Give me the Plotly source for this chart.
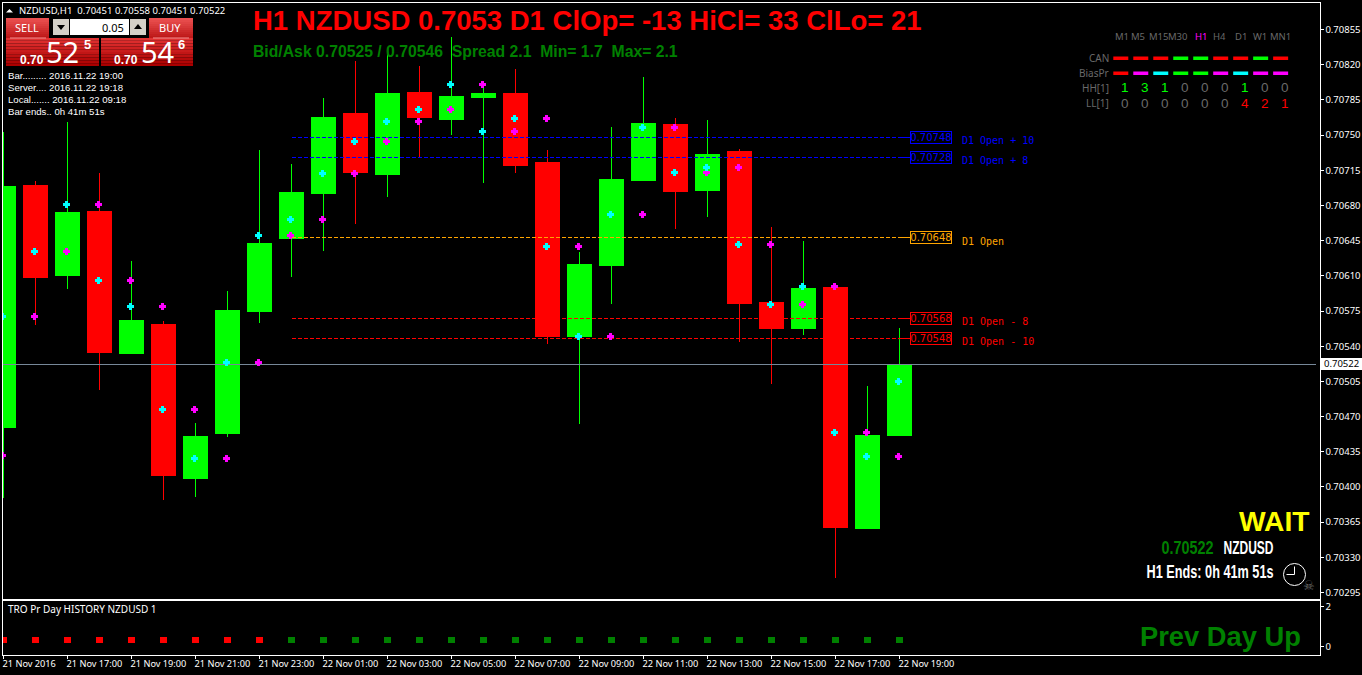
import plotly.graph_objects as go

W, H = 1362, 675

bar_index = list(range(29))
opens  = [0.70459,0.70700,0.70610,0.70674,0.70533,0.70562,0.70408,0.70453,0.70575,0.70647,0.70692,0.70771,0.70711,0.70792,0.70765,0.70787,0.70791,0.70723,0.70550,0.70620,0.70705,0.70761,0.70695,0.70734,0.70583,0.70558,0.70598,0.70359,0.70451]
highs  = [0.70753,0.70704,0.70763,0.70712,0.70625,0.70565,0.70464,0.70595,0.70735,0.70721,0.70787,0.70824,0.70837,0.70819,0.70848,0.70802,0.70816,0.70735,0.70634,0.70758,0.70808,0.70767,0.70765,0.70736,0.70659,0.70645,0.70600,0.70500,0.70558]
lows   = [0.70389,0.70561,0.70597,0.70496,0.70532,0.70387,0.70390,0.70450,0.70563,0.70609,0.70635,0.70662,0.70688,0.70728,0.70750,0.70702,0.70712,0.70542,0.70463,0.70582,0.70704,0.70657,0.70669,0.70544,0.70502,0.70551,0.70309,0.70359,0.70451]
closes = [0.70699,0.70608,0.70673,0.70534,0.70566,0.70411,0.70450,0.70576,0.70642,0.70693,0.70767,0.70713,0.70791,0.70767,0.70788,0.70791,0.70720,0.70550,0.70621,0.70706,0.70762,0.70694,0.70731,0.70582,0.70558,0.70597,0.70360,0.70451,0.70522]

cyan_dots = [0.70570,0.70634,0.70681,0.70605,0.70579,0.70477,0.70428,0.70524,0.70650,0.70666,0.70712,0.70744,0.70763,0.70775,0.70800,0.70754,0.70766,0.70639,0.70550,0.70671,0.70758,0.70713,0.70718,0.70641,0.70581,0.70599,0.70454,0.70430,0.70505]
magenta_dots = [0.70431,0.70570,0.70634,0.70681,0.70605,0.70579,0.70477,0.70428,0.70524,0.70650,0.70666,0.70712,0.70744,0.70763,0.70775,0.70800,0.70754,0.70766,0.70639,0.70550,0.70671,0.70758,0.70713,0.70718,0.70641,0.70581,0.70599,0.70454,0.70430]

level_values = [0.70748, 0.70728, 0.70648, 0.70568, 0.70548]
level_names  = ["D1 Open + 10", "D1 Open + 8", "D1 Open", "D1 Open - 8", "D1 Open - 10"]
level_colors = ["#0000ff", "#0000ff", "#ffa500", "#ff0000", "#ff0000"]
last_price = 0.70522

price_ticks = [0.70855,0.70820,0.70785,0.70750,0.70715,0.70680,0.70645,0.70610,0.70575,0.70540,0.70505,0.70470,0.70435,0.70400,0.70365,0.70330,0.70295]

time_tick_index = [0,2,4,6,8,10,12,14,16,18,20,22,24,26,28]
time_tick_labels = ["21 Nov 2016","21 Nov 17:00","21 Nov 19:00","21 Nov 21:00","21 Nov 23:00","22 Nov 01:00","22 Nov 03:00","22 Nov 05:00","22 Nov 07:00","22 Nov 09:00","22 Nov 11:00","22 Nov 13:00","22 Nov 15:00","22 Nov 17:00","22 Nov 19:00"]

history_values = [0.35]*29
history_colors = ["#ff0000"]*9 + ["#008000"]*20

tf_names = ["M1","M5","M15","M30","H1","H4","D1","W1","MN1"]
can_colors = ["#ff0000","#ff0000","#ff0000","#00ff00","#00ff00","#ff0000","#ff0000","#00ff00","#ff0000"]
bias_colors = ["#ff0000","#ff00ff","#00ffff","#00ff00","#00ff00","#ff00ff","#00ffff","#ff00ff","#ff00ff"]
hh_values = [1,3,1,0,0,0,1,0,0]
ll_values = [0,0,0,0,0,0,4,2,1]

info_lines = ["Bar......... 2016.11.22 19:00","Server.... 2016.11.22 19:18","Local....... 2016.11.22 09:18","Bar ends.. 0h 41m 51s"]

# ---- pixel geometry helpers
PX_PER_BAR = 32.0
X0_PX = 3.5
def px(x): return x / W
def py(y): return 1 - y / H
def idx_of_px(x): return (x - X0_PX) / PX_PER_BAR
LEFT, RIGHT = 2.5, 1319.5
MTOP, MBOT = 2.5, 598.5
STOP, SBOT = 600.5, 654.5
PX_PER_PRICE = 100536.0
def price_of_y(y): return 0.70855 - (y - 29.5) / PX_PER_PRICE

fig = go.Figure()

fig.add_trace(go.Candlestick(
    x=bar_index, open=opens, high=highs, low=lows, close=closes,
    increasing=dict(line=dict(color="#00ff00", width=1), fillcolor="#00ff00"),
    decreasing=dict(line=dict(color="#ff0000", width=1), fillcolor="#ff0000"),
    whiskerwidth=0, hoverinfo="skip", showlegend=False))

# D1 level lines
for v, c in zip(level_values, level_colors):
    fig.add_trace(go.Scatter(x=[9, 28], y=[v, v], mode="lines", showlegend=False, hoverinfo="skip",
                             line=dict(color=c, width=1, dash="4px,2px")))
    fig.add_trace(go.Scatter(x=[28, idx_of_px(910)], y=[v, v], mode="lines", showlegend=False, hoverinfo="skip",
                             line=dict(color=c, width=1)))

# last price line
fig.add_trace(go.Scatter(x=[-1, 41], y=[last_price, last_price], mode="lines", showlegend=False, hoverinfo="skip",
                         line=dict(color="#778899", width=1)))

dot_shift = -0.9 / PX_PER_BAR
fig.add_trace(go.Scatter(x=[i + dot_shift for i in bar_index], y=magenta_dots, mode="markers", showlegend=False, hoverinfo="skip",
                         marker=dict(symbol="cross", size=5, color="#ff00ff", line=dict(width=1, color="#ff00ff"))))
fig.add_trace(go.Scatter(x=[i + dot_shift for i in bar_index], y=cyan_dots, mode="markers", showlegend=False, hoverinfo="skip",
                         marker=dict(symbol="cross", size=5, color="#00ffff", line=dict(width=1, color="#00ffff"))))

# history squares
fig.add_trace(go.Scatter(x=bar_index, y=history_values, xaxis="x2", yaxis="y2", mode="markers", showlegend=False, hoverinfo="skip",
                         marker=dict(symbol="square", size=6.5, color=history_colors, line=dict(width=0))))

annotations = []
def text(x, y, s, color="#ffffff", size=10, family="Noto Sans", anchor="left", bold=False, **kw):
    annotations.append(dict(x=px(x), y=py(y), xref="paper", yref="paper", xanchor=anchor, yanchor="middle",
                            text=s, showarrow=False, align=anchor,
                            font=dict(color=color, size=size, family=family, weight=700 if bold else 400), borderpad=0, **kw))

shapes = []
def rect(x0, y0, x1, y1, fill, line=None):
    shapes.append(dict(type="rect", xref="paper", yref="paper", x0=px(x0), x1=px(x1), y0=py(y1), y1=py(y0),
                       fillcolor=fill, line=dict(width=1 if line else 0, color=line or fill), layer="above"))
def seg(x0, y0, x1, y1, color, width=1):
    shapes.append(dict(type="line", xref="paper", yref="paper", x0=px(x0), x1=px(x1), y0=py(y0), y1=py(y1),
                       line=dict(color=color, width=width), layer="above"))
def tri(points, fill):
    d = "M " + " L ".join("%.5f %.5f" % (px(a), py(b)) for a, b in points) + " Z"
    shapes.append(dict(type="path", xref="paper", yref="paper", path=d, fillcolor=fill, line=dict(width=0), layer="above"))

def gradient(x0, y0, x1, y1, c0, c1, steps=10):
    for k in range(steps):
        t = k / (steps - 1)
        c = tuple(round(a + (b - a) * t) for a, b in zip(c0, c1))
        rect(x0, y0 + (y1 - y0) * k / steps, x1, y0 + (y1 - y0) * (k + 1) / steps, "rgb(%d,%d,%d)" % c)

# level labels
for v, n, c in zip(level_values, level_names, level_colors):
    y = (0.70855 - v) * PX_PER_PRICE + 29.5
    annotations.append(dict(x=px(910), y=py(y), xref="paper", yref="paper", xanchor="left", yanchor="middle",
                            text="%.5f" % v, showarrow=False, width=40, height=11, align="center",
                            bordercolor=c, borderwidth=1, borderpad=0,
                            font=dict(color=c, size=10, family="DejaVu Sans")))
    text(961, y + 3.5, n, color=c, size=10, family="DejaVu Sans Mono")

# last price box
rect(1321, 358, 1362, 370, "#ffffff")
text(1341.5, 364, "%.5f" % last_price, color="#000000", size=9.5, anchor="center")

# header
tri([(6, 12.5), (13, 12.5), (9.5, 9)], "#ffffff")
text(18, 10, "NZDUSD,H1\u00a0\u00a00.70451 0.70558 0.70451 0.70522", size=9.5)

# trade panel
gradient(6, 18, 49, 38, (235, 80, 80), (190, 25, 25))
gradient(149, 18, 193, 38, (235, 80, 80), (190, 25, 25))
gradient(6, 38, 99, 66, (225, 50, 50), (170, 0, 0))
gradient(101, 38, 193, 66, (225, 50, 50), (170, 0, 0))
seg(10, 38, 46, 38, "#f09090")
seg(153, 38, 189, 38, "#f09090")
rect(53, 19, 69, 35, "#d4d0c8")
rect(130, 19, 146, 35, "#d4d0c8")
rect(70, 19, 129, 35, "#ffffff")
tri([(57, 25), (65, 25), (61, 30)], "#000000")
tri([(134, 29), (142, 29), (138, 24)], "#000000")
text(27, 28, "SELL", size=11, anchor="center")
text(170, 28, "BUY", size=11, anchor="center")
text(125, 27, "0.05", color="#000000", size=11, anchor="right")
text(19, 60, "0.70", size=12, family="Liberation Sans", bold=True)
text(45, 52, "52", size=29)
text(83, 44, "5", size=13, family="Liberation Sans", bold=True)
text(113, 60, "0.70", size=12, family="Liberation Sans", bold=True)
text(140, 52, "54", size=29)
text(177, 44, "6", size=13, family="Liberation Sans", bold=True)

for k, s in enumerate(info_lines):
    text(7, 75.5 + 12 * k, s, size=9.6, family="Liberation Sans")

# title
text(252, 20, "H1 NZDUSD 0.7053 D1 ClOp= -13 HiCl= 33 ClLo= 21", color="#ff0000", size=27.5, family="Liberation Sans", bold=True)
text(252, 52, "Bid/Ask 0.70525 / 0.70546  Spread 2.1  Min= 1.7  Max= 2.1", color="#008000", size=15.75, family="Liberation Sans", bold=True)

# top right table
tf_x = [1122, 1138, 1159, 1178, 1201, 1219, 1241, 1260, 1280]
for k, n in enumerate(tf_names):
    text(tf_x[k], 36, n, color="#ff00ff" if n == "H1" else "#696969", size=9.5, anchor="center")
    bx = 1113.3 + 19.98 * k
    rect(bx, 56.5, bx + 15, 60, can_colors[k])
    rect(bx, 71.5, bx + 15, 75, bias_colors[k])
    hv, lv = hh_values[k], ll_values[k]
    text(bx + 12, 88, str(hv), color="#00ff00" if hv else "#696969", size=13.5, family="Liberation Sans", anchor="center")
    text(bx + 12, 103, str(lv), color="#ff0000" if lv else "#696969", size=13.5, family="Liberation Sans", anchor="center")
for s, y in zip(["CAN", "BiasPr", "HH[1]", "LL[1]"], [58, 73, 88, 103]):
    text(1109.5, y, s, color="#696969", size=10, anchor="right")

# bottom right
text(1310, 521, "WAIT", color="#ffff00", size=28.2, family="Liberation Sans", anchor="right", bold=True)
text(1187, 548, "0.70522", color="#008000", size=18, family="Liberation Sans", anchor="center", bold=True)
text(1248, 548, "NZDUSD", size=18, family="Liberation Sans", anchor="center", bold=True)
text(1209.5, 572, "H1 Ends: 0h 41m 51s", size=18, family="Liberation Sans", anchor="center", bold=True)
shapes.append(dict(type="circle", xref="paper", yref="paper", x0=px(1283.5), x1=px(1305.5), y0=py(585.5), y1=py(563.5),
                   line=dict(color="#ffffff", width=1), fillcolor="#000000", layer="above"))
seg(1294.5, 574.5, 1294.5, 566.5, "#ffffff")
seg(1294.5, 574.5, 1286.5, 574.5, "#ffffff")
text(1309, 585, "\u2620", color="#6a6a6a", size=13, family="DejaVu Sans", anchor="center")

# sub window
text(7, 609, "TRO Pr Day HISTORY NZDUSD 1", size=10)
text(1302, 636, "Prev Day Up", color="#008000", size=27.3, family="Liberation Sans", anchor="right", bold=True)

axis_font = dict(color="#ffffff", size=9.5, family="Noto Sans")
x_font = dict(color="#ffffff", size=9.2, family="Noto Sans")
x_range = [idx_of_px(LEFT), idx_of_px(RIGHT)]
common = dict(automargin=False, showgrid=False, zeroline=False, showline=True, mirror=True,
              linecolor="#ffffff", linewidth=1, fixedrange=True)
fig.update_layout(
    width=W, height=H, margin=dict(l=0, r=0, t=0, b=0, pad=0), autosize=False,
    paper_bgcolor="#000000", plot_bgcolor="#000000", showlegend=False, boxgap=1 - 24 / 32, boxgroupgap=0,
    xaxis=dict(domain=[px(LEFT), px(RIGHT)], range=x_range, anchor="y",
               showticklabels=False, ticks="", rangeslider=dict(visible=False), **common),
    yaxis=dict(domain=[py(MBOT), py(MTOP)], range=[price_of_y(MBOT), price_of_y(MTOP)], anchor="x", side="right",
               tickmode="array", tickvals=price_ticks,
               ticktext=["%.5f" % v for v in price_ticks], ticks="outside", ticklen=3, tickcolor="#ffffff", tickwidth=1,
               tickfont=axis_font, **common),
    xaxis2=dict(domain=[px(LEFT), px(RIGHT)], range=x_range, anchor="y2",
                tickmode="array", tickvals=time_tick_index, ticktext=time_tick_labels, ticks="outside", ticklen=3,
                tickcolor="#ffffff", tickwidth=1, tickfont=x_font, ticklabelposition="outside right", tickangle=0,
                ticklabelshift=-2, **common),
    yaxis2=dict(domain=[py(SBOT), py(STOP)], range=[-0.375, 2.3], anchor="x2", side="right",
                tickmode="array", tickvals=[0, 2], ticktext=["0", "2"], ticks="outside", ticklen=3, tickcolor="#ffffff",
                tickfont=axis_font, **common),
    annotations=annotations, shapes=shapes,
)

post = """
document.body.style.margin='0';document.body.style.background='#000';document.body.style.overflow='hidden';
document.querySelectorAll('.cartesianlayer path').forEach(function(p){p.style.shapeRendering='crispEdges';});
var fit={'0.70522':52,'NZDUSD':50,'H1 Ends: 0h 41m 51s':127};
document.querySelectorAll('.annotation-text').forEach(function(t){
  var s=t.textContent;
  if(fit[s] && t.style.fontSize==='18px'){t.setAttribute('textLength',fit[s]);t.setAttribute('lengthAdjust','spacingAndGlyphs');}
});
"""
fig.write_html("out.html", config=dict(displayModeBar=False), post_script=post)
